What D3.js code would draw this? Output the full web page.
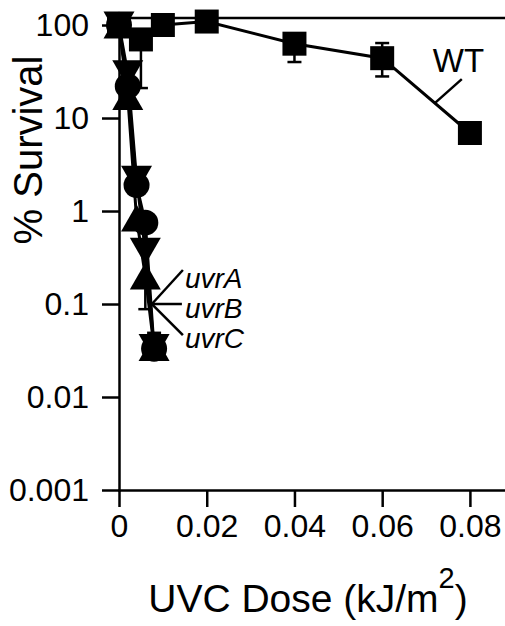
<!DOCTYPE html>
<html lang="en">
<head>
<meta charset="UTF-8">
<title>UVC survival</title>
<script src="https://d3js.org/d3.v7.min.js"></script>
<style>
  body { margin: 0; background: #fff; }
  text { font-family: "Liberation Sans", Arial, sans-serif; fill: #000; }
  .axis path, .axis line { stroke: #000; stroke-width: 2.5; fill: none; }
  .axis text { font-size: 32px; }
  .series { fill: none; stroke: #000; stroke-width: 3; }
  .err { stroke: #000; stroke-width: 2.5; }
  .lead { stroke: #000; stroke-width: 2.5; }
</style>
</head>
<body>
<div id="chart"></div>
<script>
// UVC dose in kJ/m2, survival in %
var wtDose = [0, 0.005, 0.01, 0.02, 0.04, 0.06, 0.08];
var wtSurv = [100, 70, 100, 109, 63, 44, 6.9];
var wtLow  = [null, 21, null, null, 40, 28, null];
var wtHigh = [null, null, null, null, null, 64, null];

var uvrDose  = [0, 0.002, 0.004, 0.006, 0.008];
var uvrASurv = [100, 17, 0.84, 0.2, 0.034];
var uvrALow  = [null, null, null, 0.088, null];
var uvrBSurv = [100, 30, 2.2, 0.37, 0.034];
var uvrCSurv = [100, 22, 1.9, 0.75, 0.033];
var uvrCHigh = [null, null, null, null, 0.049];

var xTicks = [0, 0.02, 0.04, 0.06, 0.08];
var xTickLabels = ["0", "0.02", "0.04", "0.06", "0.08"];
var yTicks = [0.001, 0.01, 0.1, 1, 10, 100];
var yTickLabels = ["0.001", "0.01", "0.1", "1", "10", "100"];

var W = 505, H = 626;

var svg = d3.select("#chart").append("svg")
    .attr("width", W)
    .attr("height", H);

var x = d3.scaleLinear().domain([0, 0.088]).range([119, 505]);
var y = d3.scaleLog().domain([0.001, 119]).range([490, 18]);

var xAxis = d3.axisBottom(x)
    .tickValues(xTicks)
    .tickFormat(function (d, i) { return xTickLabels[i]; })
    .tickSizeInner(17).tickSizeOuter(0).tickPadding(7);

var yAxis = d3.axisLeft(y)
    .tickValues(yTicks)
    .tickFormat(function (d, i) { return yTickLabels[i]; })
    .tickSizeInner(17).tickSizeOuter(0).tickPadding(13);

svg.append("g")
    .attr("class", "x axis")
    .attr("transform", "translate(0," + y(0.001) + ")")
    .call(xAxis);

svg.append("g")
    .attr("class", "y axis")
    .attr("transform", "translate(" + x(0) + ",0)")
    .call(yAxis);

// top frame line
svg.append("line")
    .attr("x1", x(0)).attr("x2", x.range()[1])
    .attr("y1", y.range()[1]).attr("y2", y.range()[1])
    .attr("stroke", "#000").attr("stroke-width", 2.5);

svg.selectAll(".axis .domain").attr("stroke-linecap", "square");

// axis titles
svg.append("text")
    .attr("transform", "translate(42,150) rotate(-90)")
    .attr("text-anchor", "middle")
    .style("font-size", "40px")
    .text("% Survival");

var xt = svg.append("text")
    .attr("x", 308).attr("y", 612)
    .attr("text-anchor", "middle")
    .style("font-size", "39px");
xt.append("tspan").text("UVC Dose (kJ/m");
xt.append("tspan").attr("dy", -24).style("font-size", "29px").text("2");
xt.append("tspan").attr("dy", 24).text(")");

var line = d3.line()
    .x(function (d) { return x(d[0]); })
    .y(function (d) { return y(d[1]); });

function pts(dose, surv) {
    return dose.map(function (d, i) { return [d, surv[i]]; });
}

function errBars(dose, surv, ends) {
    dose.forEach(function (d, i) {
        if (ends[i] == null) return;
        svg.append("line").attr("class", "err")
            .attr("x1", x(d)).attr("x2", x(d))
            .attr("y1", y(surv[i])).attr("y2", y(ends[i]));
        svg.append("line").attr("class", "err")
            .attr("x1", x(d) - 7).attr("x2", x(d) + 7)
            .attr("y1", y(ends[i])).attr("y2", y(ends[i]));
    });
}

var triUp = "M0,-13.5L15.5,13.5L-15.5,13.5Z";
var triDown = "M0,13.5L15.5,-13.5L-15.5,-13.5Z";
var square = d3.symbol(d3.symbolSquare, 24 * 24)();

function markers(dose, surv, shape) {
    svg.append("g").selectAll("g")
        .data(pts(dose, surv))
        .enter().append("g")
        .attr("transform", function (d) { return "translate(" + x(d[0]) + "," + y(d[1]) + ")"; })
        .each(function () {
            var g = d3.select(this);
            if (shape === "circle") g.append("circle").attr("r", 13).attr("fill", "#000");
            else g.append("path").attr("d", shape).attr("fill", "#000");
        });
}

// mutants
errBars(uvrDose, uvrASurv, uvrALow);
errBars(uvrDose, uvrCSurv, uvrCHigh);
svg.append("path").attr("class", "series").attr("d", line(pts(uvrDose, uvrASurv)));
svg.append("path").attr("class", "series").attr("d", line(pts(uvrDose, uvrBSurv)));
svg.append("path").attr("class", "series").attr("d", line(pts(uvrDose, uvrCSurv)));
markers(uvrDose, uvrCSurv, "circle");
markers(uvrDose, uvrASurv, triUp);
markers(uvrDose, uvrBSurv, triDown);

// wild type
errBars(wtDose, wtSurv, wtLow);
errBars(wtDose, wtSurv, wtHigh);
svg.append("path").attr("class", "series").attr("d", line(pts(wtDose, wtSurv)));
markers(wtDose, wtSurv, square);

// WT label with leader line onto the 0.06 -> 0.08 segment
var a = [x(wtDose[5]), y(wtSurv[5])], b = [x(wtDose[6]), y(wtSurv[6])];
var wx = a[0] + (b[0] - a[0]) * 0.6, wy = a[1] + (b[1] - a[1]) * 0.6;
svg.append("line").attr("class", "lead")
    .attr("x1", wx).attr("y1", wy).attr("x2", wx + 27).attr("y2", wy - 24);
svg.append("text")
    .attr("x", wx - 2).attr("y", wy - 31)
    .style("font-size", "33px")
    .text("WT");

// mutant labels
var mx = x(0.0075), my = y(0.1);
var uvrLabels = ["uvrA", "uvrB", "uvrC"];
var leadEnds = [[31, -34], [30, 0], [31, 31]];
uvrLabels.forEach(function (t, i) {
    svg.append("line").attr("class", "lead")
        .attr("x1", mx).attr("y1", my)
        .attr("x2", mx + leadEnds[i][0]).attr("y2", my + leadEnds[i][1]);
    svg.append("text")
        .attr("x", mx + 33).attr("y", my - 16 + i * 30)
        .style("font-size", "28px")
        .style("font-style", "italic")
        .text(t);
});
</script>
</body>
</html>
